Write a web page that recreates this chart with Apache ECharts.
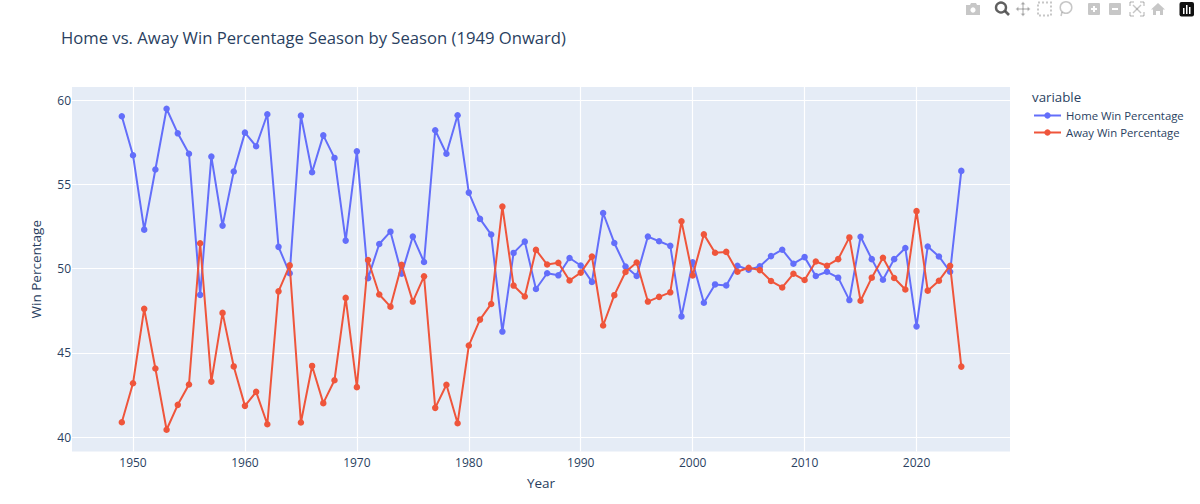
<!DOCTYPE html>
<html><head><meta charset="utf-8">
<style>html,body{margin:0;padding:0;background:#fff}#c{width:1200px;height:504px}</style>
<script src="https://cdn.jsdelivr.net/npm/echarts@6/dist/echarts.min.js"></script>
</head><body><div id="c"></div>
<script>
const years = [1949,1950,1951,1952,1953,1954,1955,1956,1957,1958,1959,1960,1961,1962,1963,1964,1965,1966,1967,1968,1969,1970,1971,1972,1973,1974,1975,1976,1977,1978,1979,1980,1981,1982,1983,1984,1985,1986,1987,1988,1989,1990,1991,1992,1993,1994,1995,1996,1997,1998,1999,2000,2001,2002,2003,2004,2005,2006,2007,2008,2009,2010,2011,2012,2013,2014,2015,2016,2017,2018,2019,2020,2021,2022,2023,2024];
const homeWin = [59.05,56.74,52.32,55.89,59.5,58.04,56.83,48.45,56.66,52.56,55.77,58.08,57.27,59.17,51.3,49.73,59.09,55.73,57.92,56.58,51.67,56.97,49.44,51.47,52.2,49.71,51.91,50.4,58.22,56.83,59.11,54.52,52.96,52.03,46.27,50.94,51.61,48.8,49.73,49.61,50.64,50.19,49.22,53.31,51.53,50.13,49.57,51.91,51.63,51.36,47.17,50.38,47.98,49.07,49.01,50.18,49.94,50.14,50.75,51.13,50.3,50.69,49.57,49.82,49.47,48.14,51.9,50.57,49.35,50.57,51.23,46.58,51.32,50.73,49.82,55.81];
const awayWin = [40.89,43.2,47.62,44.08,40.44,41.92,43.13,51.51,43.3,47.38,44.2,41.86,42.69,40.77,48.66,50.2,40.87,44.23,42.02,43.38,48.27,42.97,50.52,48.47,47.75,50.23,48.05,49.55,41.74,43.11,40.83,45.44,46.98,47.91,53.69,49.0,48.35,51.12,50.25,50.35,49.3,49.77,50.72,46.63,48.43,49.81,50.37,48.05,48.33,48.6,52.82,49.6,52.04,50.95,51.0,49.82,50.06,49.92,49.27,48.89,49.7,49.33,50.43,50.18,50.57,51.86,48.1,49.47,50.65,49.45,48.77,53.42,48.7,49.29,50.18,44.19];
const seriesNames = ['Home Win Percentage','Away Win Percentage'];
const xTicks = [1950,1960,1970,1980,1990,2000,2010,2020];
const yTicks = [40,45,50,55,60];
const FONT = '"Open Sans", "DejaVu Sans", sans-serif';
const INK = '#2a3f5f', GREY = 'rgba(68,68,68,0.3)';
const zip = v => years.map((y,i)=>[y,v[i]]);
const chart = echarts.init(document.getElementById('c'), null, {renderer:'svg'});
const R = (x,y,w,h,fill,r) => ({type:'rect',silent:true,shape:{x,y,width:w,height:h,r:r||0},style:{fill}});
const P = (points,fill) => ({type:'polygon',silent:true,shape:{points},style:{fill}});
const L = (x1,y1,x2,y2,stroke,w) => ({type:'line',silent:true,shape:{x1,y1,x2,y2},style:{stroke,lineWidth:w}});
const icons = [
  P([[966,5],[970,5],[971,3],[976,3],[977,5],[980,5],[980,15],[966,15]],GREY),
  {type:'circle',silent:true,shape:{cx:973,cy:10,r:2.6},style:{fill:'#fff'}},
  {type:'circle',silent:true,shape:{cx:1001,cy:7.5,r:5},style:{fill:'none',stroke:'rgba(68,68,68,0.85)',lineWidth:2.4}},
  L(1005,11,1009,15,'rgba(68,68,68,0.85)',2.6),
  L(1023,3,1023,15,GREY,1.6), L(1017,9,1029,9,GREY,1.6),
  P([[1023,1.5],[1025.5,4.5],[1020.5,4.5]],GREY), P([[1023,16.5],[1025.5,13.5],[1020.5,13.5]],GREY),
  P([[1015.5,9],[1018.5,6.5],[1018.5,11.5]],GREY), P([[1030.5,9],[1027.5,6.5],[1027.5,11.5]],GREY),
  {type:'rect',silent:true,shape:{x:1038,y:2.5,width:13,height:13},style:{fill:'none',stroke:GREY,lineWidth:2,lineDash:[2,2]}},
  {type:'circle',silent:true,shape:{cx:1066,cy:7.5,r:5.8},style:{fill:'none',stroke:GREY,lineWidth:1.5}},
  L(1062,12,1061,16,GREY,1.5),
  R(1088,3,12,12,GREY,1), R(1091,8,6,2,'#fff'), R(1093,6,2,6,'#fff'),
  R(1109,3,12,12,GREY,1), R(1112,8,6,2,'#fff'),
  L(1130,2,1134,2,GREY,1.4), L(1130,2,1130,6,GREY,1.4), L(1140,2,1144,2,GREY,1.4), L(1144,2,1144,6,GREY,1.4),
  L(1130,16,1134,16,GREY,1.4), L(1130,12,1130,16,GREY,1.4), L(1140,16,1144,16,GREY,1.4), L(1144,12,1144,16,GREY,1.4),
  L(1133,5,1141,13,GREY,1.4), L(1141,5,1133,13,GREY,1.4),
  P([[1158,3],[1165,9.5],[1163,9.5],[1163,15],[1160,15],[1160,11],[1156,11],[1156,15],[1153,15],[1153,9.5],[1151,9.5]],GREY),
  R(1179.5,2,14.5,14.5,'#111',2), R(1183,8,1.5,6,'#fff'), R(1186,5,1.5,9,'#fff'), R(1189,7,1.5,7,'#fff'),
  {type:'text',silent:true,x:1032,y:90,style:{text:'variable',fill:INK,font:'13.3px '+FONT}}
];
chart.setOption({
  animation:false,
  backgroundColor:'#fff',
  color:['#636efa','#ef553b'],
  title:{text:'Home vs. Away Win Percentage Season by Season (1949 Onward)',left:56,top:24,textStyle:{color:INK,fontFamily:FONT,fontSize:16.65,fontWeight:'normal'}},
  grid:{left:72,top:87,width:938,height:364.5,backgroundColor:'#e5ecf6',show:true,borderWidth:0},
  legend:{orient:'vertical',left:1028,top:105,itemWidth:27,itemHeight:8,itemGap:6,data:seriesNames,
    textStyle:{color:INK,fontFamily:FONT,fontSize:11.35}},
  xAxis:{type:'value',min:1944.55,max:2028.35,name:'Year',nameLocation:'middle',nameGap:24,
    nameTextStyle:{color:INK,fontFamily:FONT,fontSize:13.5},
    axisLine:{show:false},axisTick:{show:false},
    axisLabel:{color:INK,fontFamily:FONT,fontSize:12,margin:5,customValues:xTicks,formatter:v=>String(v)},
    splitLine:{show:false}},
  yAxis:{type:'value',min:39.15,max:60.79,name:'Win Percentage',nameLocation:'middle',nameGap:29,
    nameTextStyle:{color:INK,fontFamily:FONT,fontSize:13.5},
    axisLine:{show:false},axisTick:{show:false},
    axisLabel:{color:INK,fontFamily:FONT,fontSize:12,margin:1,customValues:yTicks,formatter:v=>String(v)},
    splitLine:{show:false}},
  series:[
    {type:'line',silent:true,symbol:'none',data:[],z:0,
      markLine:{silent:true,symbol:'none',animation:false,z:1,label:{show:false},
        lineStyle:{color:'#fff',width:1.2,type:'solid'},
        data:[...xTicks.map(v=>({xAxis:v})),...yTicks.map(v=>({yAxis:v}))]}},
    {name:seriesNames[0],type:'line',z:3,data:zip(homeWin),symbol:'circle',symbolSize:6.5,lineStyle:{width:2,color:'#636efa'},itemStyle:{color:'#636efa'}},
    {name:seriesNames[1],type:'line',z:4,data:zip(awayWin),symbol:'circle',symbolSize:6.5,lineStyle:{width:2,color:'#ef553b'},itemStyle:{color:'#ef553b'}}
  ],
  graphic:{elements:icons}
});
</script></body></html>
